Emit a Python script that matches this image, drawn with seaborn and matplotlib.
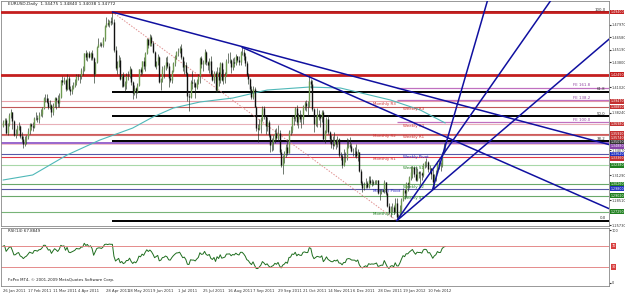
import numpy as np
import pandas as pd
import matplotlib
matplotlib.use("Agg")
import matplotlib.pyplot as plt
import matplotlib.transforms as mtransforms
import seaborn as sns

# ---------------- data ----------------
first_open = 1.3680
closes = [
 1.3715,1.3745,1.3600,1.3695,
 1.3800,1.3830,1.3725,1.3580,1.3590,1.3650,1.3675,1.3565,1.3535,1.3470,1.3520,1.3550,1.3615,1.3695,1.3675,1.3660,1.3765,1.3765,1.3750,1.3800,
 1.3810,1.3870,1.3985,1.3985,1.3945,1.3890,1.3905,1.3825,1.3905,1.3985,1.3960,1.3925,1.4000,1.4180,1.4160,1.4180,1.4080,1.4210,1.4085,1.4065,1.4095,1.4125,1.4160,
 1.4235,1.4225,1.4225,1.4295,1.4300,1.4480,1.4435,1.4490,1.4440,1.4490,1.4430,1.4250,1.4380,1.4550,1.4585,1.4585,1.4570,1.4640,1.4790,1.4815,1.4805,
 1.4835,1.4830,1.4830,1.4515,1.4315,1.4365,1.4410,1.4195,1.4240,1.4120,1.4150,1.4230,1.4225,1.4310,1.4160,1.4045,1.4100,1.4050,1.4135,1.4305,1.4275,1.4395,
 1.4345,1.4490,1.4640,1.4575,1.4660,1.4600,1.4495,1.4340,1.4390,1.4445,1.4165,1.4195,1.4310,1.4325,1.4385,1.4345,1.4205,1.4185,1.4285,1.4370,1.4440,1.4500,
 1.4505,1.4535,1.4440,1.4335,1.4355,1.4260,1.4010,1.3995,1.4165,1.4150,1.4150,1.4110,1.4175,1.4230,1.4425,1.4365,1.4380,1.4500,1.4390,1.4355,1.4395,
 1.4240,1.4190,1.4265,1.4075,1.4275,1.4185,1.4370,1.4190,1.4215,1.4245,1.4400,1.4400,1.4410,1.4330,1.4390,1.4370,1.4450,1.4405,1.4385,1.4500,1.4500,1.4450,1.4375,
 1.4240,1.4195,1.4085,1.4000,1.4085,1.3890,1.3655,1.3640,1.3690,1.3750,1.3875,1.3795,1.3680,1.3715,1.3575,1.3460,1.3500,1.3525,1.3595,1.3540,1.3600,1.3385,
 1.3240,1.3335,1.3370,1.3440,1.3375,1.3610,1.3625,1.3780,1.3760,1.3875,1.3720,1.3800,1.3755,1.3750,1.3900,1.3925,1.3900,1.3900,1.4170,1.4145,1.3860,
 1.3695,1.3755,1.3810,1.3790,1.3765,1.3830,1.3525,1.3615,1.3750,1.3605,1.3535,1.3470,1.3460,1.3520,1.3480,1.3525,1.3350,1.3340,1.3240,1.3320,1.3315,1.3440,
 1.3460,1.3450,1.3400,1.3395,1.3395,1.3345,1.3385,1.3180,1.3040,1.2990,1.3020,1.3045,1.3000,1.3075,1.3045,1.3055,1.3045,1.3055,1.3070,1.2935,1.2945,1.2960,
 1.2955,1.3050,1.2935,1.2790,1.2715,1.2765,1.2780,1.2720,1.2815,1.2670,1.2665,1.2740,1.2850,1.2965,1.2930,1.3040,1.3035,1.3105,1.3160,1.3215,1.3140,1.3080,
 1.3160,1.3150,1.3155,1.3135,1.3255,1.3280,1.3270,1.3195,1.3205,1.3140,1.3055,1.3120,1.3155,1.3260,1.3235,1.3240,1.3380,1.3450,1.3477,
]
highs = [
 1.3740,1.3760,1.3760,1.3710,
 1.3815,1.3860,1.3835,1.3745,1.3640,1.3690,1.3720,1.3690,1.3610,1.3560,1.3560,1.3580,1.3650,1.3710,1.3705,1.3720,1.3780,1.3830,1.3800,1.3830,
 1.3865,1.3890,1.4000,1.4030,1.4035,1.3980,1.3960,1.3920,1.3930,1.4000,1.4000,1.4020,1.4040,1.4190,1.4225,1.4220,1.4200,1.4250,1.4230,1.4120,1.4130,1.4160,1.4200,
 1.4250,1.4250,1.4250,1.4320,1.4340,1.4490,1.4520,1.4500,1.4510,1.4500,1.4520,1.4440,1.4390,1.4560,1.4650,1.4610,1.4610,1.4660,1.4800,1.4880,1.4860,
 1.4850,1.4880,1.4940,1.4860,1.4560,1.4400,1.4465,1.4445,1.4255,1.4275,1.4175,1.4260,1.4280,1.4345,1.4320,1.4170,1.4125,1.4110,1.4150,1.4310,1.4330,1.4400,
 1.4440,1.4500,1.4650,1.4640,1.4695,1.4690,1.4620,1.4505,1.4400,1.4470,1.4450,1.4210,1.4340,1.4355,1.4440,1.4450,1.4375,1.4255,1.4300,1.4385,1.4460,1.4510,
 1.4545,1.4565,1.4580,1.4450,1.4400,1.4385,1.4275,1.4040,1.4180,1.4280,1.4200,1.4160,1.4200,1.4250,1.4440,1.4450,1.4410,1.4530,1.4510,1.4400,1.4430,
 1.4450,1.4300,1.4280,1.4290,1.4330,1.4335,1.4390,1.4380,1.4305,1.4275,1.4420,1.4480,1.4495,1.4420,1.4430,1.4440,1.4475,1.4455,1.4450,1.4510,1.4548,1.4530,1.4480,
 1.4400,1.4265,1.4210,1.4115,1.4115,1.4110,1.3900,1.3700,1.3750,1.3780,1.3900,1.3900,1.3720,1.3770,1.3740,1.3590,1.3540,1.3580,1.3640,1.3650,1.3690,1.3630,
 1.3415,1.3350,1.3400,1.3470,1.3535,1.3630,1.3680,1.3795,1.3790,1.3890,1.3910,1.3820,1.3855,1.3805,1.3910,1.3955,1.3960,1.3955,1.4245,1.4200,1.4180,
 1.3875,1.3800,1.3870,1.3850,1.3810,1.3850,1.3850,1.3635,1.3780,1.3795,1.3620,1.3570,1.3560,1.3610,1.3535,1.3560,1.3540,1.3390,1.3360,1.3420,1.3390,1.3545,
 1.3530,1.3550,1.3485,1.3430,1.3440,1.3480,1.3415,1.3390,1.3200,1.3060,1.3050,1.3100,1.3060,1.3115,1.3120,1.3085,1.3075,1.3070,1.3080,1.3080,1.2970,1.2975,
 1.2980,1.3080,1.3055,1.2940,1.2815,1.2790,1.2815,1.2800,1.2875,1.2880,1.2700,1.2800,1.2870,1.2985,1.2980,1.3050,1.3050,1.3120,1.3230,1.3235,1.3225,1.3230,
 1.3210,1.3170,1.3180,1.3160,1.3260,1.3290,1.3320,1.3285,1.3245,1.3210,1.3200,1.3140,1.3190,1.3290,1.3295,1.3270,1.3390,1.3486,1.3484,
]
lows = [
 1.3660,1.3690,1.3590,1.3580,
 1.3680,1.3765,1.3640,1.3560,1.3540,1.3580,1.3630,1.3540,1.3500,1.3430,1.3450,1.3480,1.3530,1.3590,1.3630,1.3620,1.3650,1.3740,1.3720,1.3705,
 1.3790,1.3780,1.3860,1.3940,1.3930,1.3860,1.3860,1.3780,1.3800,1.3880,1.3860,1.3890,1.3880,1.3990,1.4130,1.4140,1.4060,1.4070,1.4070,1.4020,1.4030,1.4080,1.4110,
 1.4130,1.4180,1.4155,1.4200,1.4240,1.4290,1.4410,1.4400,1.4430,1.4410,1.4410,1.4150,1.4240,1.4370,1.4550,1.4560,1.4550,1.4550,1.4620,1.4770,1.4780,
 1.4775,1.4800,1.4810,1.4500,1.4300,1.4250,1.4330,1.4180,1.4105,1.4105,1.4060,1.4090,1.4180,1.4210,1.4135,1.3970,1.4020,1.3990,1.4040,1.4120,1.4240,1.4255,
 1.4310,1.4290,1.4475,1.4540,1.4560,1.4560,1.4485,1.4325,1.4310,1.4355,1.4150,1.4070,1.4160,1.4210,1.4300,1.4320,1.4110,1.4160,1.4150,1.4270,1.4340,1.4420,
 1.4455,1.4490,1.4420,1.4290,1.4250,1.4225,1.3955,1.3837,1.3980,1.4080,1.4105,1.3990,1.4080,1.4140,1.4150,1.4320,1.4280,1.4360,1.4350,1.4300,1.4260,
 1.4225,1.4170,1.4150,1.4050,1.4055,1.4115,1.4150,1.4170,1.4145,1.4150,1.4225,1.4375,1.4375,1.4260,1.4300,1.4330,1.4350,1.4390,1.4350,1.4350,1.4465,1.4410,1.4340,
 1.4225,1.4145,1.4050,1.3970,1.3970,1.3880,1.3620,1.3495,1.3625,1.3600,1.3730,1.3750,1.3585,1.3620,1.3555,1.3385,1.3400,1.3410,1.3490,1.3520,1.3510,1.3365,
 1.3220,1.3145,1.3260,1.3330,1.3350,1.3370,1.3580,1.3600,1.3690,1.3725,1.3690,1.3650,1.3720,1.3655,1.3700,1.3850,1.3840,1.3800,1.3890,1.4100,1.3840,
 1.3610,1.3680,1.3660,1.3745,1.3660,1.3720,1.3505,1.3485,1.3600,1.3590,1.3490,1.3430,1.3420,1.3455,1.3420,1.3440,1.3330,1.3300,1.3213,1.3230,1.3280,1.3300,
 1.3435,1.3425,1.3385,1.3340,1.3330,1.3320,1.3290,1.3160,1.3015,1.2945,1.2960,1.2990,1.2985,1.2990,1.3030,1.3010,1.3020,1.3030,1.3030,1.2920,1.2858,1.2915,
 1.2940,1.2935,1.2905,1.2770,1.2700,1.2665,1.2725,1.2695,1.2705,1.2624,1.2625,1.2660,1.2720,1.2840,1.2860,1.2890,1.2950,1.2990,1.3080,1.3100,1.3110,1.3060,
 1.3060,1.3095,1.3030,1.3070,1.3110,1.3210,1.3215,1.3160,1.3160,1.3090,1.2975,1.2975,1.3060,1.3150,1.3200,1.3180,1.3225,1.3370,1.3404,
]
warmup_closes = [1.3140,1.3110,1.3090,1.3100,1.3120,1.3150,1.3130,1.3220,1.3290,1.3380,
                 1.3350,1.3310,1.3150,1.3000,1.2905,1.2950,1.2970,1.3130,1.3360,1.3380,
                 1.3310,1.3375,1.3470,1.3530,1.3615,1.3615,1.3680]

ma_bars = [0, 19, 41, 62, 83, 96, 109, 126, 147, 169, 196, 216, 248, 267, 283]
ma_values = [1.3075, 1.3131, 1.3353, 1.3519, 1.3652, 1.3775, 1.3874, 1.3941, 1.3985,
             1.4074, 1.4107, 1.4096, 1.3963, 1.3852, 1.3708]

tick_labels = ['26 Jan 2011', '17 Feb 2011', '11 Mar 2011', '4 Apr 2011', '28 Apr 2011',
               '18 May 2011', '9 Jun 2011', '1 Jul 2011', '25 Jul 2011', '16 Aug 2011',
               '7 Sep 2011', '29 Sep 2011', '21 Oct 2011', '14 Nov 2011', '6 Dec 2011',
               '28 Dec 2011', '19 Jan 2012', '10 Feb 2012']

price_ticks = [1.47970, 1.46580, 1.45190, 1.43800, 1.41020, 1.38240, 1.34070,
               1.31290, 1.28510, 1.25730]

title_text = 'EURUSD,Daily  1.34475 1.34840 1.34038 1.34772'
rsi_text = 'RSI(14) 67.8849'
footer_text = 'FxPro MT4, \u00a9 2001-2009 MetaQuotes Software Corp.'

# Fibonacci retracement (May 2011 high -> Jan 2012 low)
fib_high, fib_low = 1.4940, 1.2624
fib_ratios = [0.0, 38.2, 50.0, 61.8, 100.0]
fib_start_date = '2011-05-04'
fib_end_date = '2012-01-13'

# Fibonacci expansion levels
fe_names = ['FE 161.8', 'FE 138.2', 'FE 100.0']
fe_prices = [1.4098, 1.3960, 1.3720]

# Pivot levels
pivot_names = ['Monthly R3', 'Weekly R3', 'Weekly R2', 'Monthly R2', 'Weekly R1',
               'Weekly Pivot', 'Monthly R1', 'Weekly S1', 'Weekly S2',
               'Monthly Pivot', 'Weekly S3', 'Monthly S1']
pivot_prices = [1.3947, 1.3885, 1.3698, 1.3591, 1.3574, 1.3362, 1.3336, 1.3238,
                1.3026, 1.2980, 1.2902, 1.2725]
pivot_colors = ['#E8A0A8', '#C05858', '#E8B0B8', '#D05A5A', '#D07070', '#5858A8',
                '#E03848', '#A8D8A8', '#6AA86A', '#5858A8', '#6AA86A', '#78B478']
pivot_text_colors = ['#D03030', '#D03030', '#D03030', '#D03030', '#D03030', '#2020C0',
                     '#D03030', '#208020', '#208020', '#2020C0', '#208020', '#208020']

red_levels = [1.4940, 1.4245]
extra_levels = [1.3488]

# trend lines (date, price) pairs
trend_lines = [
    (('2011-05-04', 1.4940), ('2012-07-31', 1.3440)),
    (('2011-08-29', 1.4548), ('2012-07-31', 1.2710)),
]
up_lines = [
    (('2012-01-13', 1.2624), 0.00248),
    (('2012-01-13', 1.2624), 0.001483),
    (('2012-02-15', 1.2975), 0.00597),
]

# ---------------- derived helpers ----------------
n = len(closes)
dates = pd.bdate_range('2011-01-26', periods=n + 120)
def bar(d):
    return dates.get_loc(pd.Timestamp(d))

opens = [first_open] + closes[:-1]
idx = np.arange(n)

all_c = pd.Series(warmup_closes + closes)
delta = all_c.diff()
gain = delta.clip(lower=0).ewm(alpha=1/14, adjust=False).mean()
loss = (-delta.clip(upper=0)).ewm(alpha=1/14, adjust=False).mean()
rsi = (100 - 100 / (1 + gain / loss)).values[-n:]

# ---------------- figure ----------------
sns.set_style('white')
plt.rcParams['font.family'] = ['DejaVu Sans']
fig = plt.figure(figsize=(6.25, 2.93), dpi=100)
W, H = 625, 293
ax = fig.add_axes([1/W, 1 - 226/H, 608/W, 225/H])
ax2 = fig.add_axes([1/W, 1 - 286/H, 608/W, 58/H])

px = 0.00111
xmin, xmax = -1.28, 387.8
ymax = 1.4940 + 11 * px
ymin = 1.4940 - 214 * px
ax.set_xlim(xmin, xmax)
ax.set_ylim(ymin, ymax)

# horizontal pivot lines
for p, c in zip(pivot_prices, pivot_colors):
    ax.axhline(p, color=c, lw=0.8, zorder=1)
for name, p, tc, in zip(pivot_names, pivot_prices, pivot_text_colors):
    xx = 237 if name.startswith('Monthly') else 256
    ax.text(xx, p - 0.0004, name, fontsize=2.9, color=tc, va='top', ha='left', zorder=5)
ax.axhline(extra_levels[0], color='#9966CC', lw=1.4, zorder=1)
ax.axhline(1.3475, color='#F0B8C0', lw=0.6, zorder=1)

# red levels
for p in red_levels:
    ax.axhline(p, color='#C41E1E', lw=2.0, zorder=3)

# fib levels
fs0, fe0 = bar(fib_start_date), bar(fib_end_date)
for r in fib_ratios:
    p = fib_low + (fib_high - fib_low) * r / 100
    ax.hlines(p, fs0, xmax, color='#000000', lw=1.4, zorder=2)
    ax.text(xmax - 2, p + 0.0004, f'{r:.1f}', fontsize=2.8, ha='right', va='bottom', color='#333333')
ax.plot([fs0, fe0], [fib_high, fib_low], ls=(0, (1.5, 1.5)), color='#E09090', lw=0.7, zorder=2)

# FE levels
for name, p in zip(fe_names, fe_prices):
    ax.hlines(p, fe0, xmax, color='#C070C0', lw=0.9, zorder=2)
    ax.text(xmax - 12, p + 0.0004, name, fontsize=2.8, ha='right', va='bottom', color='#9040A0')

# MA
sns.lineplot(x=ma_bars, y=ma_values, ax=ax, color='#4FB8B8', lw=0.8, zorder=3)

# candles
o = np.array(opens); c = np.array(closes); h = np.array(highs); l = np.array(lows)
up = c >= o
ax.vlines(idx, np.minimum(l, np.minimum(o, c)), np.maximum(h, np.maximum(o, c)),
          color='#1E2E1E', lw=0.45, zorder=4)
ax.vlines(idx[up], o[up], c[up], color='#6E9A50', lw=1.0, zorder=5)
ax.vlines(idx[~up], c[~up], o[~up], color='#111111', lw=1.0, zorder=5)

# trend lines
for (d0, p0), (d1, p1) in trend_lines:
    ax.plot([bar(d0), bar(d1)], [p0, p1], color='#1010A0', lw=1.1, zorder=6)
for (d0, p0), slope in up_lines:
    b0 = bar(d0)
    b1 = b0 + (ymax + 0.05 - p0) / slope
    ax.plot([b0, b1], [p0, ymax + 0.05], color='#1010A0', lw=1.1, zorder=6)

ax.text(3, ymax - 0.0015, title_text, fontsize=3.1, va='top', ha='left', color='#222222')

# right axis labels
ax.yaxis.tick_right()
ax.set_yticks(price_ticks)
ax.set_yticklabels([f'{t:.5f}' for t in price_ticks])
ax.tick_params(axis='y', labelsize=2.5, length=1.2, pad=0.8, colors='#333333')
ax.set_xticks([])

trans = mtransforms.blended_transform_factory(ax.transAxes, ax.transData)
boxes = [(1.4940, '#C41E1E'), (1.4245, '#C41E1E'), (1.3947, '#C43030'), (1.3885, '#C43030'),
         (1.3698, '#C43030'), (1.3591, '#C43030'), (1.3574, '#C43030'), (1.3509, '#333333'),
         (1.3488, '#8844AA'), (1.3362, '#2030C0'), (1.3336, '#C43030'), (1.3238, '#208020'),
         (1.3026, '#208020'), (1.2980, '#2030C0'), (1.2902, '#208020'), (1.2725, '#208020')]
# keep boxes from stacking on top of each other (min gap in price units)
gap = 4.3 * px
placed = []
for p, col in boxes:
    pos = p
    if placed and placed[-1] - pos < gap:
        pos = placed[-1] - gap
    placed.append(pos)
    ax.text(1.002, pos, f'{p:.5f}', transform=trans, fontsize=2.3, color='white',
            va='center', ha='left', clip_on=False,
            bbox=dict(boxstyle='square,pad=0.12', fc=col, ec='none'))

for s in ax.spines.values():
    s.set_color('#888888'); s.set_linewidth(0.6)

# ---------------- RSI panel ----------------
ax2.set_xlim(xmin, xmax)
ax2.set_ylim(-5.7, 103.8)
sns.lineplot(x=idx, y=rsi, ax=ax2, color='#1F6E1F', lw=0.7)
for lvl in (70, 30):
    ax2.axhline(lvl, color='#E07878', lw=0.6)
ax2.text(3, 101, rsi_text, fontsize=2.9, va='top', ha='left', color='#222222')
ax2.text(3, 2, footer_text, fontsize=2.9, va='bottom', ha='left', color='#222222')
ax2.yaxis.tick_right()
ax2.set_yticks([100, 0])
ax2.set_yticklabels(['100', '0'])
ax2.tick_params(axis='y', labelsize=2.5, length=1.2, pad=0.8, colors='#333333')
t2 = mtransforms.blended_transform_factory(ax2.transAxes, ax2.transData)
for lvl in (70, 30):
    ax2.text(1.004, lvl, f'{lvl}', transform=t2, fontsize=2.4, color='white',
             va='center', ha='left', clip_on=False,
             bbox=dict(boxstyle='square,pad=0.2', fc='#D84040', ec='none'))
tick_pos = [bar(pd.Timestamp(t)) for t in tick_labels]
ax2.set_xticks(tick_pos)
ax2.set_xticklabels(tick_labels, ha='left')
ax2.tick_params(axis='x', labelsize=2.7, length=1.2, pad=1, colors='#333333')
ax2.set_xlabel(''); ax2.set_ylabel('')
ax.set_xlabel(''); ax.set_ylabel('')
for s in ax2.spines.values():
    s.set_color('#888888'); s.set_linewidth(0.6)

fig.savefig('out.png', dpi=100, facecolor='white')
